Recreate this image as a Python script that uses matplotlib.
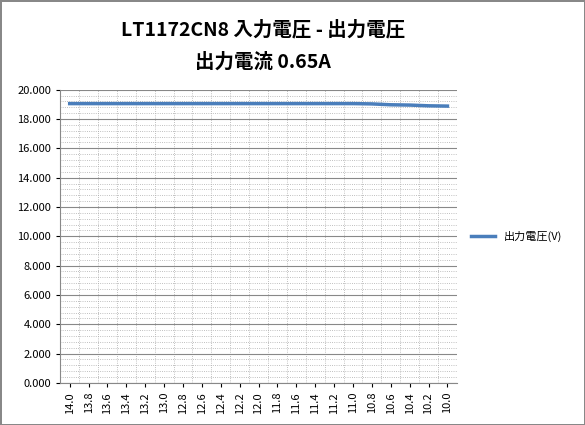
import matplotlib
matplotlib.use("Agg")
import matplotlib.pyplot as plt
import numpy as np
from matplotlib.ticker import MultipleLocator

plt.rcParams['font.family'] = ['Noto Sans CJK JP', 'DejaVu Sans']

input_v = ["14.0","13.8","13.6","13.4","13.2","13.0","12.8","12.6","12.4","12.2","12.0",
           "11.8","11.6","11.4","11.2","11.0","10.8","10.6","10.4","10.2","10.0"]
output_v = [19.05,19.05,19.05,19.05,19.05,19.05,19.05,19.05,19.05,19.05,19.05,
            19.05,19.05,19.05,19.05,19.05,19.03,18.97,18.95,18.90,18.88]

fig = plt.figure(figsize=(5.85, 4.25), dpi=100)
ax = fig.add_axes([0.103, 0.099, 0.678, 0.69])
x = np.arange(len(input_v))
ax.plot(x, output_v, color='#4a7ebb', lw=2.5, label='出力電圧(V)')
ax.set_xlim(-0.5, len(input_v) - 0.5)
ax.set_ylim(0, 20)
ax.yaxis.set_major_locator(MultipleLocator(2))
ax.yaxis.set_minor_locator(MultipleLocator(0.4))
ax.set_yticks(np.arange(0, 21, 2))
ax.set_yticklabels([f"{v:.3f}" for v in np.arange(0, 21, 2)], fontsize=8)
ax.set_xticks(x)
ax.set_xticklabels(input_v, rotation=90, fontsize=8)
ax.set_xticks(np.arange(-0.5, len(input_v)), minor=True)
ax.grid(which='major', axis='y', color='#888888', lw=0.8)
ax.grid(which='minor', axis='y', color='#aaaaaa', lw=0.6, ls=':')
ax.grid(which='minor', axis='x', color='#aaaaaa', lw=0.6, ls=':')
ax.tick_params(which='minor', length=0)
ax.tick_params(which='major', length=3)
for s in ['top', 'right']:
    ax.spines[s].set_visible(False)
for s in ['left', 'bottom']:
    ax.spines[s].set_color('#888888')
fig.text(0.45, 0.93, 'LT1172CN8 入力電圧 - 出力電圧', ha='center', va='center', fontsize=14, fontweight='bold')
fig.text(0.45, 0.855, '出力電流 0.65A', ha='center', va='center', fontsize=14, fontweight='bold')
ax.legend(loc='center left', bbox_to_anchor=(1.01, 0.5), frameon=False, fontsize=8, handlelength=2.2)
fig.patch.set_edgecolor('#888888'); fig.patch.set_linewidth(1)
fig.savefig('out.png', dpi=100, edgecolor=fig.get_edgecolor())
